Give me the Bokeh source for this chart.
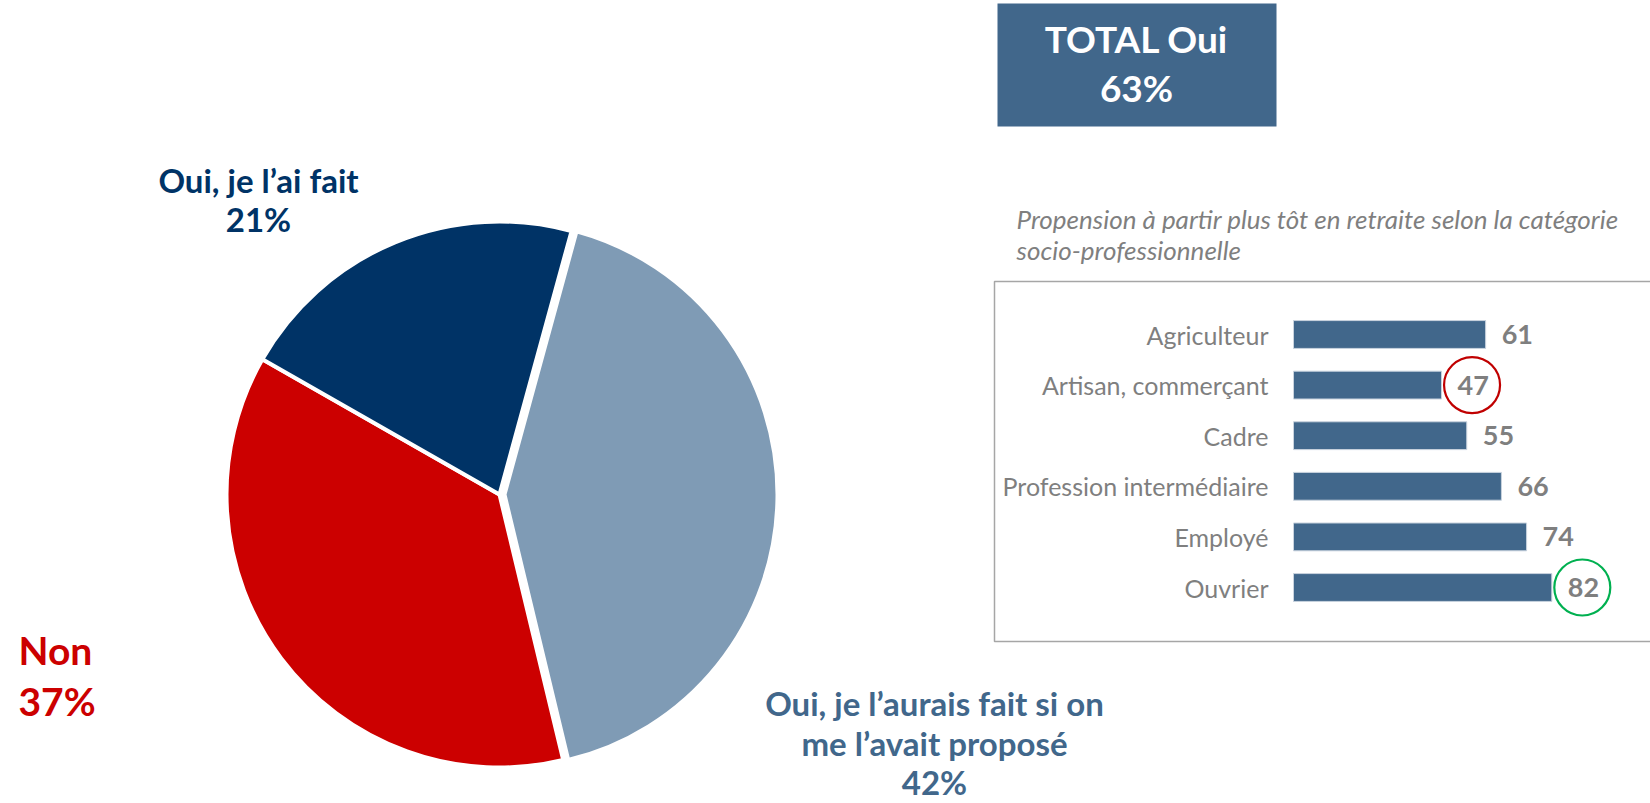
import numpy as np
from bokeh.plotting import figure
from bokeh.models import Range1d, ColumnDataSource
from bokeh.core.properties import value
from bokeh.embed import file_html
from bokeh.resources import INLINE

# ---------------- data ----------------
pie_categories = ["Oui, je l’aurais fait si on\nme l’avait proposé", "Non", "Oui, je l’ai fait"]
pie_values = [42, 37, 21]
pie_is_oui = [True, False, True]

bar_categories = ["Agriculteur", "Artisan, commerçant", "Cadre",
                  "Profession intermédiaire", "Employé", "Ouvrier"]
bar_values = [61, 47, 55, 66, 74, 82]

subtitle_lines = ["Propension à partir plus tôt en retraite selon la catégorie",
                  "socio-professionnelle"]
total_title = "TOTAL Oui"

# ---------------- style ----------------
W, H = 1650, 803
FONT = "Lato"
PIE_COLORS = ["#7F9BB5", "#CC0000", "#003366"]
LABEL_COLORS = ["#41678B", "#CC0000", "#003366"]
BAR_COLOR = "#41678B"
GRAY = "#7F7F7F"
BASE_K = 0.40   # renderer baseline correction (fraction of font size)

def py(y_page):  # page y (down) -> data y (up)
    return H - y_page

def base(y_page, size):  # desired baseline (page y) -> data y for text anchor
    return py(y_page - BASE_K * size)

p = figure(width=W, height=H, x_range=Range1d(0, W), y_range=Range1d(0, H),
           x_axis_type=None, y_axis_type=None, output_backend="svg",
           toolbar_location=None, min_border=0)
p.outline_line_color = None
p.background_fill_color = "white"

# ---------------- pie ----------------
PIE_CX, PIE_CY, PIE_R = 499, 494, 273
START_CW = 15.3  # degrees clockwise from 12 o'clock
EXPLODE = [5, 0, 0]
vals = np.array(pie_values, dtype=float)
cum = np.concatenate([[0], np.cumsum(vals)]) / vals.sum() * 360.0
cw_start = START_CW + cum[:-1]
cw_end = START_CW + cum[1:]
mid = np.radians((cw_start + cw_end) / 2)
cx = PIE_CX + np.array(EXPLODE) * np.sin(mid)
cy = py(PIE_CY) + np.array(EXPLODE) * np.cos(mid)
pie_src = ColumnDataSource(dict(
    x=cx, y=cy,
    start=np.radians(90 - cw_start), end=np.radians(90 - cw_end),
    color=PIE_COLORS, cat=pie_categories))
p.wedge(x="x", y="y", radius=PIE_R, start_angle="start", end_angle="end",
        direction="clock", fill_color="color", line_color="white", line_width=4,
        source=pie_src)

# pie labels: (x, first baseline, align, size, line gap)
LABEL_POS = [(934, 716, "center", 33, 39.5),
             (18, 665, "left", 39, 51),
             (258, 193, "center", 33, 39)]
for cat, v, col, (lx, ly, al, sz, gap) in zip(pie_categories, pie_values, LABEL_COLORS, LABEL_POS):
    lines = cat.split("\n") + [f"{v}%"]
    p.text(x=[lx] * len(lines), y=[base(ly + i * gap, sz) for i in range(len(lines))], text=lines,
           text_font=value(FONT), text_font_style="bold", text_font_size=f"{sz}px",
           text_color=col, text_align=al, text_baseline="alphabetic")

# ---------------- TOTAL box ----------------
total_oui = sum(v for v, o in zip(pie_values, pie_is_oui) if o)
p.quad(left=[997], right=[1276], top=[py(3)], bottom=[py(126)],
       fill_color=BAR_COLOR, line_color=None)
p.text(x=[1136, 1136], y=[base(53, 37), base(102, 37)], text=[total_title, f"{total_oui}%"],
       text_font=value(FONT), text_font_style="bold", text_font_size="37px",
       text_color="white", text_align="center", text_baseline="alphabetic")

# ---------------- subtitle ----------------
p.text(x=[1016, 1016], y=[base(229, 26), base(260, 26)], text=subtitle_lines,
       text_font=value(FONT), text_font_style="italic", text_font_size="26px",
       text_color=GRAY, text_align="left", text_baseline="alphabetic")

# ---------------- bar panel ----------------
p.quad(left=[994], right=[1700], top=[py(281)], bottom=[py(641)],
       fill_color=None, line_color="#A6A6A6", line_width=1.5)

BAR_X0, PXU = 1293, 3.15      # page x of value 0, pixels per unit
BAR_Y0, ROW = 334, 50.6       # page y of first row, pixels per row
p.extra_x_ranges = {"bars": Range1d((0 - BAR_X0) / PXU, (W - BAR_X0) / PXU)}
p.extra_y_ranges = {"bars": Range1d((H - BAR_Y0) / ROW, (0 - BAR_Y0) / ROW)}

idx = list(range(len(bar_categories)))
bar_src = ColumnDataSource(dict(y=idx, v=bar_values, cat=bar_categories,
                                lab=[str(v) for v in bar_values]))
p.hbar(y="y", left=0, right="v", height=0.55, fill_color=BAR_COLOR,
       line_color="#C9D3DE", line_width=1, source=bar_src,
       x_range_name="bars", y_range_name="bars")
p.text(x=0, y="y", text="cat", x_offset=-25, source=bar_src,
       text_font=value(FONT), text_font_size="25px", text_color=GRAY,
       text_align="right", text_baseline="middle",
       x_range_name="bars", y_range_name="bars")
p.text(x="v", y="y", text="lab", x_offset=16, source=bar_src,
       text_font=value(FONT), text_font_style="bold", text_font_size="27px",
       text_color=GRAY, text_align="left", text_baseline="middle",
       x_range_name="bars", y_range_name="bars")

# circles around the lowest and highest values
i_min = int(np.argmin(bar_values))
i_max = int(np.argmax(bar_values))
circ_src = ColumnDataSource(dict(
    x=[bar_values[i_min] + 30.5 / PXU, bar_values[i_max] + 30.5 / PXU],
    y=[i_min, i_max], color=["#C00000", "#00B050"]))
p.ellipse(x="x", y="y", width=56, height=56, width_units="screen", height_units="screen",
          fill_color=None, line_color="color", line_width=2.2, source=circ_src,
          x_range_name="bars", y_range_name="bars")

open("out.html", "w").write(file_html(p, INLINE))
